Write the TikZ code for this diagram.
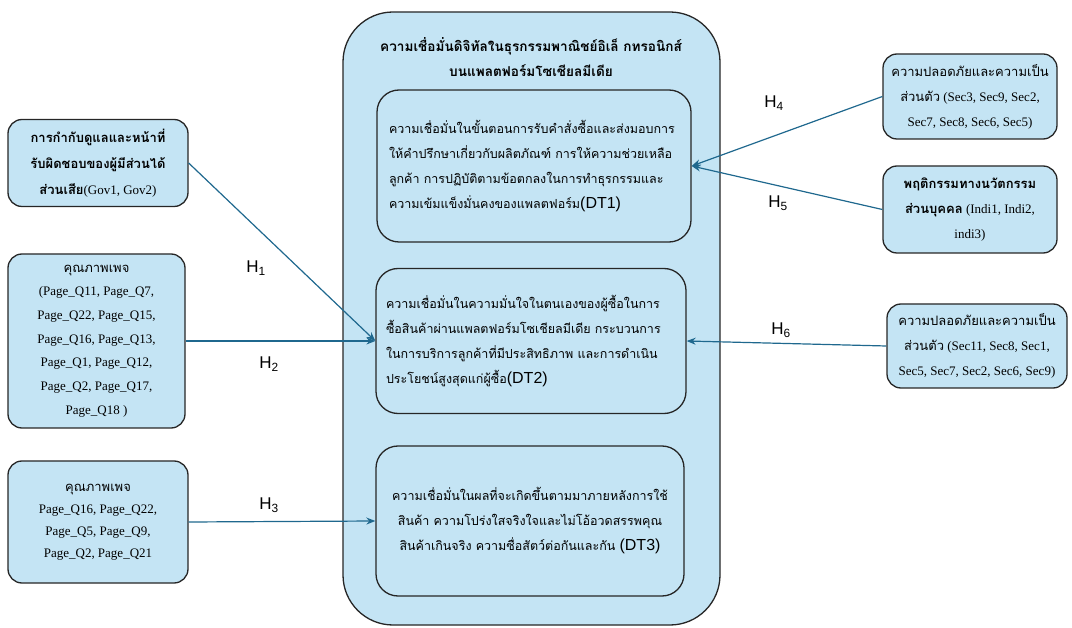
\documentclass[tikz,border=0pt]{standalone}
\usepackage{fontspec}
\setmainfont{Liberation Serif}
\newfontfamily\thaifont[Script=Thai]{Loma}
\newfontfamily\arialfont{Liberation Sans}
\usetikzlibrary{arrows.meta}
\definecolor{boxblue}{RGB}{196,228,244}
\definecolor{arrowblue}{RGB}{31,104,142}
\newcommand{\boxcolor}{boxblue}
\newcommand{\linkcolor}{arrowblue}
\newcommand{\thaitext}[1]{{\thaifont #1}}
\newcommand{\dtfont}{\thaifont\fontsize{12.5}{25}\selectfont}
\newcommand{\dtcode}[1]{{\arialfont\fontsize{16}{25}\selectfont #1}}

\begin{document}
\begin{tikzpicture}[x=1pt,y=-1pt,
  card/.style={draw=black!85,fill=\boxcolor,line width=1.3pt,rounded corners=14pt,
    align=center,inner sep=0pt,font=\fontsize{13}{25}\selectfont},
  dtbox/.style={card,rounded corners=22pt,align=left,minimum width=314pt,
    minimum height=150pt,text width=290pt,font=\dtfont},
  link/.style={draw=\linkcolor,line width=1.2pt,-{Stealth[length=9pt,width=7pt]}},
  hlabel/.style={font=\arialfont\fontsize{17}{20}\selectfont}]
\useasboundingbox (0,0) rectangle (1072,628);
%outer
\node[card,rounded corners=50pt,minimum width=377pt,minimum height=613pt] (outer) at (531.5,318.5) {};
\node[align=center,font=\thaifont\bfseries\fontsize{13.6}{25}\selectfont] (title) at (531,57)
  {ความเชื่อมั่นดิจิทัลในธุรกรรมพาณิชย์อิเล็ กทรอนิกส์\\บนแพลตฟอร์มโซเชียลมีเดีย};
%dt boxes
\node[dtbox,minimum height=152pt] (dt1) at (534,166)
  {ความเชื่อมั่นในขั้นตอนการรับคำสั่งซื้อและส่งมอบการ\\
   ให้คำปรึกษาเกี่ยวกับผลิตภัณฑ์ การให้ความช่วยเหลือ\\
   ลูกค้า การปฏิบัติตามข้อตกลงในการทำธุรกรรมและ\\
   ความเข้มแข็งมั่นคงของแพลตฟอร์ม\dtcode{(DT1)}};
\node[dtbox,minimum width=310pt,minimum height=145pt] (dt2) at (531,341)
  {ความเชื่อมั่นในความมั่นใจในตนเองของผู้ซื้อในการ\\
   ซื้อสินค้าผ่านแพลตฟอร์มโซเชียลมีเดีย กระบวนการ\\
   ในการบริการลูกค้าที่มีประสิทธิภาพ และการดำเนิน\\
   ประโยชน์สูงสุดแก่ผู้ซื้อ\dtcode{(DT2)}};
\node[dtbox,minimum width=308pt,align=center] (dt3) at (530,521)
  {ความเชื่อมั่นในผลที่จะเกิดขึ้นตามมาภายหลังการใช้\\
   สินค้า ความโปร่งใสจริงใจและไม่โอ้อวดสรรพคุณ\\
   สินค้าเกินจริง ความซื่อสัตว์ต่อกันและกัน \dtcode{(DT3)}};
%left
\node[card,minimum width=180pt,minimum height=87pt,font=\fontsize{13}{26}\selectfont] (gov) at (98,163)
  {\thaitext{\bfseries การกำกับดูแลและหน้าที่}\\
   \thaitext{\bfseries รับผิดชอบของผู้มีส่วนได้}\\
   \thaitext{\bfseries ส่วนเสีย}(Gov1, Gov2)};
\node[card,minimum width=177pt,minimum height=174pt,font=\fontsize{13}{23.7}\selectfont] (page1) at (96.5,341)
  {\thaitext{คุณภาพเพจ}\\
   (Page\_Q11, Page\_Q7,\\
   Page\_Q22, Page\_Q15,\\
   Page\_Q16, Page\_Q13,\\
   Page\_Q1, Page\_Q12,\\
   Page\_Q2, Page\_Q17,\\
   Page\_Q18 )};
\node[card,minimum width=180pt,minimum height=122pt,font=\fontsize{13}{22}\selectfont] (page2) at (98,522)
  {\thaitext{คุณภาพเพจ}\\
   Page\_Q16, Page\_Q22,\\
   Page\_Q5, Page\_Q9,\\
   Page\_Q2, Page\_Q21};
%right
\node[card,minimum width=174pt,minimum height=85pt] (sec1) at (970,96.5)
  {\thaitext{ความปลอดภัยและความเป็น}\\
   \thaitext{ส่วนตัว} (Sec3, Sec9, Sec2,\\
   Sec7, Sec8, Sec6, Sec5)};
\node[card,minimum width=174pt,minimum height=87pt] (indi) at (970,209.5)
  {\thaitext{\bfseries พฤติกรรมทางนวัตกรรม}\\
   \thaitext{\bfseries ส่วนบุคคล} (Indi1, Indi2,\\
   indi3)};
\node[card,minimum width=180pt,minimum height=84pt] (sec2) at (977,346)
  {\thaitext{ความปลอดภัยและความเป็น}\\
   \thaitext{ส่วนตัว} (Sec11, Sec8, Sec1,\\
   Sec5, Sec7, Sec2, Sec6, Sec9)};
%links
\draw[link] (gov.east) -- (dt2.west);
\draw[link] (page1.east) -- (dt2.west);
\draw[link] (page2.east) -- (dt3.west);
\draw[link] (sec1.west) -- (dt1.east);
\draw[link] (indi.west) -- (dt1.east);
\draw[link] (sec2.west) -- (dt2.east);
\node[hlabel] (h1) at (256,268) {H\textsubscript{1}};
\node[hlabel] (h2) at (269,364) {H\textsubscript{2}};
\node[hlabel] (h3) at (269,505) {H\textsubscript{3}};
\node[hlabel] (h4) at (774,103) {H\textsubscript{4}};
\node[hlabel] (h5) at (778,203) {H\textsubscript{5}};
\node[hlabel] (h6) at (781,330) {H\textsubscript{6}};
\end{tikzpicture}
\end{document}
